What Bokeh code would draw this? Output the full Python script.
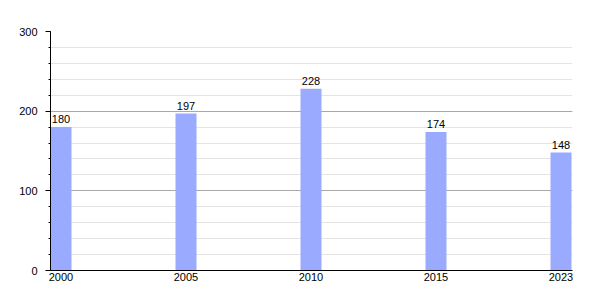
from bokeh.plotting import figure
from bokeh.models import ColumnDataSource, FixedTicker, Range1d, LabelSet
from bokeh.core.properties import value
from bokeh.embed import file_html
from bokeh.resources import INLINE

years = ["2000", "2005", "2010", "2015", "2023"]
population = [180, 197, 228, 174, 148]
y_ticks = [0, 100, 200, 300]

BAR_W = 0.168
idx = list(range(len(years)))
src = ColumnDataSource(dict(
    left=[i for i in idx],
    right=[i + BAR_W for i in idx],
    center=[i + BAR_W / 2 for i in idx],
    top=population,
    label=[str(v) for v in population],
))

p = figure(width=600, height=300, output_backend="svg", toolbar_location=None,
           x_range=Range1d(0, 522 / 125), y_range=Range1d(0, 300),
           min_border_left=50, min_border_right=28, min_border_top=31, min_border_bottom=30)
p.outline_line_color = None
p.background_fill_color = "white"
p.border_fill_color = "white"

p.quad(left="left", right="right", bottom=0, top="top", source=src,
       fill_color="#99AAFF", line_color=None)

labels = LabelSet(x="center", y="top", text="label", source=src, y_offset=4,
                  text_align="center", text_baseline="bottom",
                  text_font=value("Liberation Sans"), text_font_size="11px", text_color="black")
p.add_layout(labels)

# y axis
p.yaxis.ticker = FixedTicker(ticks=y_ticks, minor_ticks=list(range(0, 301, 20)))
p.yaxis.major_tick_out = 5
p.yaxis.major_tick_in = 0
p.yaxis.minor_tick_out = 2
p.yaxis.minor_tick_in = 0
p.yaxis.major_label_standoff = 8
p.yaxis.major_label_text_font = "Liberation Sans"
p.yaxis.major_label_text_font_size = "11px"
p.yaxis.major_label_text_color = "black"
p.yaxis.axis_line_color = "black"
p.yaxis.major_tick_line_color = "black"
p.yaxis.minor_tick_line_color = "black"

# x axis
p.xaxis.ticker = FixedTicker(ticks=[i + BAR_W / 2 for i in idx])
p.xaxis.major_label_overrides = {i + BAR_W / 2: y for i, y in zip(idx, years)}
p.xaxis.major_tick_out = 0
p.xaxis.major_tick_in = 0
p.xaxis.minor_tick_line_color = None
p.xaxis.major_label_standoff = 2
p.xaxis.major_label_text_font = "Liberation Sans"
p.xaxis.major_label_text_font_size = "11px"
p.xaxis.major_label_text_color = "black"
p.xaxis.axis_line_color = "black"

# grids
p.xgrid.grid_line_color = None
p.ygrid.grid_line_color = "#a8a8a8"
p.ygrid.minor_grid_line_color = "#e4e4e4"
p.ygrid.level = "underlay"

open("out.html", "w").write(file_html(p, INLINE))
